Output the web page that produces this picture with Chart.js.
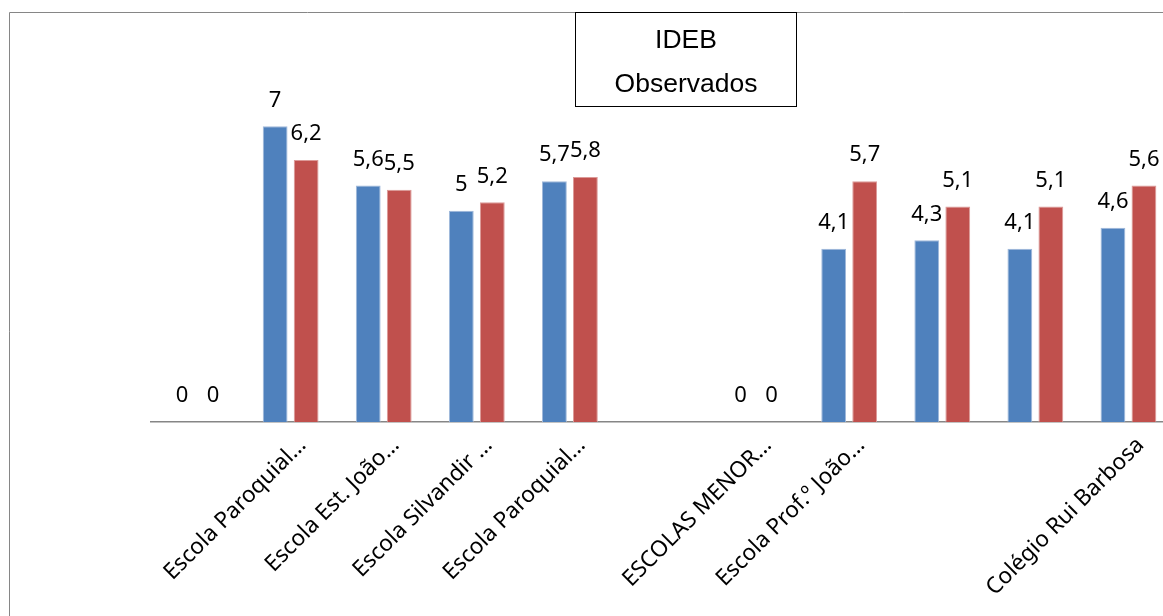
<!DOCTYPE html>
<html lang="pt-br">
<head>
    <meta charset="UTF-8">
    <title>IDEB Observados</title>
    <style>
        html, body {
            margin: 0;
            padding: 0;
            background: #ffffff;
            overflow: hidden;
        }
        #chart-box {
            width: 1200px;
            height: 650px;
        }
    </style>
</head>
<body>
    <div id="chart-box">
        <canvas id="idebChart"></canvas>
    </div>

    <script src="https://cdn.jsdelivr.net/npm/chart.js"></script>

    <script>
        // categorias (algumas sem rótulo no eixo)
        const escolas = [
            "",
            "Escola Paroquial…",
            "Escola Est. João…",
            "Escola Silvandir …",
            "Escola Paroquial…",
            "",
            "ESCOLAS MENOR…",
            "Escola Prof.º João…",
            "",
            "",
            "Colégio Rui Barbosa"
        ];
        const serieAzul = [0, 7, 5.6, 5, 5.7, null, 0, 4.1, 4.3, 4.1, 4.6];
        const serieVermelha = [0, 6.2, 5.5, 5.2, 5.8, null, 0, 5.7, 5.1, 5.1, 5.6];
        const tituloLinhas = ["IDEB", "Observados"];

        const fonteRotulos = "'Noto Sans', sans-serif";

        // rótulos de valor acima das barras (vírgula decimal)
        const rotulosValores = {
            id: "rotulosValores",
            afterDatasetsDraw(chart) {
                const ctx = chart.ctx;
                ctx.save();
                ctx.font = "22px " + fonteRotulos;
                ctx.fillStyle = "#000000";
                ctx.textAlign = "center";
                ctx.textBaseline = "middle";
                chart.data.datasets.forEach((ds, i) => {
                    chart.getDatasetMeta(i).data.forEach((bar, j) => {
                        let v = ds.data[j];
                        if (v === null) return;
                        let txt = String(v).replace(".", ",");
                        ctx.fillText(txt, bar.x, bar.y - 26);
                    });
                });
                ctx.restore();
            }
        };

        // moldura externa e caixa do título
        const moldura = {
            id: "moldura",
            afterDraw(chart) {
                const ctx = chart.ctx;
                ctx.save();
                ctx.strokeStyle = "#868686";
                ctx.lineWidth = 1;
                ctx.beginPath();
                ctx.moveTo(9.5, 700);
                ctx.lineTo(9.5, 12.5);
                ctx.lineTo(1300, 12.5);
                ctx.stroke();

                ctx.fillStyle = "#ffffff";
                ctx.fillRect(575, 12, 222, 95);
                ctx.strokeStyle = "#000000";
                ctx.strokeRect(575.5, 12.5, 221, 94);

                ctx.fillStyle = "#000000";
                ctx.font = "26.5px 'Liberation Sans', Arial, sans-serif";
                ctx.textAlign = "center";
                ctx.textBaseline = "middle";
                ctx.fillText(tituloLinhas[0], 686, 41);
                ctx.fillText(tituloLinhas[1], 686, 85);
                ctx.restore();
            }
        };

        let ctx = document.getElementById("idebChart").getContext("2d");
        let idebChart = new Chart(ctx, {
            type: "bar",
            data: {
                labels: escolas,
                datasets: [{
                    label: "Série 1",
                    data: serieAzul,
                    backgroundColor: "#4f81bd",
                    borderColor: "#9fb8da",
                    borderWidth: 1
                }, {
                    label: "Série 2",
                    data: serieVermelha,
                    backgroundColor: "#c0504d",
                    borderColor: "#dc9a98",
                    borderWidth: 1
                }]
            },
            options: {
                responsive: true,
                maintainAspectRatio: false,
                animation: false,
                layout: {
                    padding: { left: 151, top: 84, right: 25, bottom: 0 }
                },
                datasets: {
                    bar: {
                        categoryPercentage: 0.666,
                        barPercentage: 0.8
                    }
                },
                plugins: {
                    legend: { display: false },
                    tooltip: { enabled: false }
                },
                scales: {
                    x: {
                        grid: { display: false },
                        border: { display: true, color: "#868686", width: 1.5 },
                        ticks: {
                            color: "#000000",
                            font: { family: fonteRotulos, size: 22.5 },
                            minRotation: 45,
                            maxRotation: 45,
                            autoSkip: false,
                            padding: 2,
                            labelOffset: 12
                        },
                        afterFit(scale) {
                            scale.height = 650 - 422;
                        }
                    },
                    y: {
                        display: false,
                        min: 0,
                        max: 8
                    }
                }
            },
            plugins: [rotulosValores, moldura]
        });
    </script>
</body>
</html>
